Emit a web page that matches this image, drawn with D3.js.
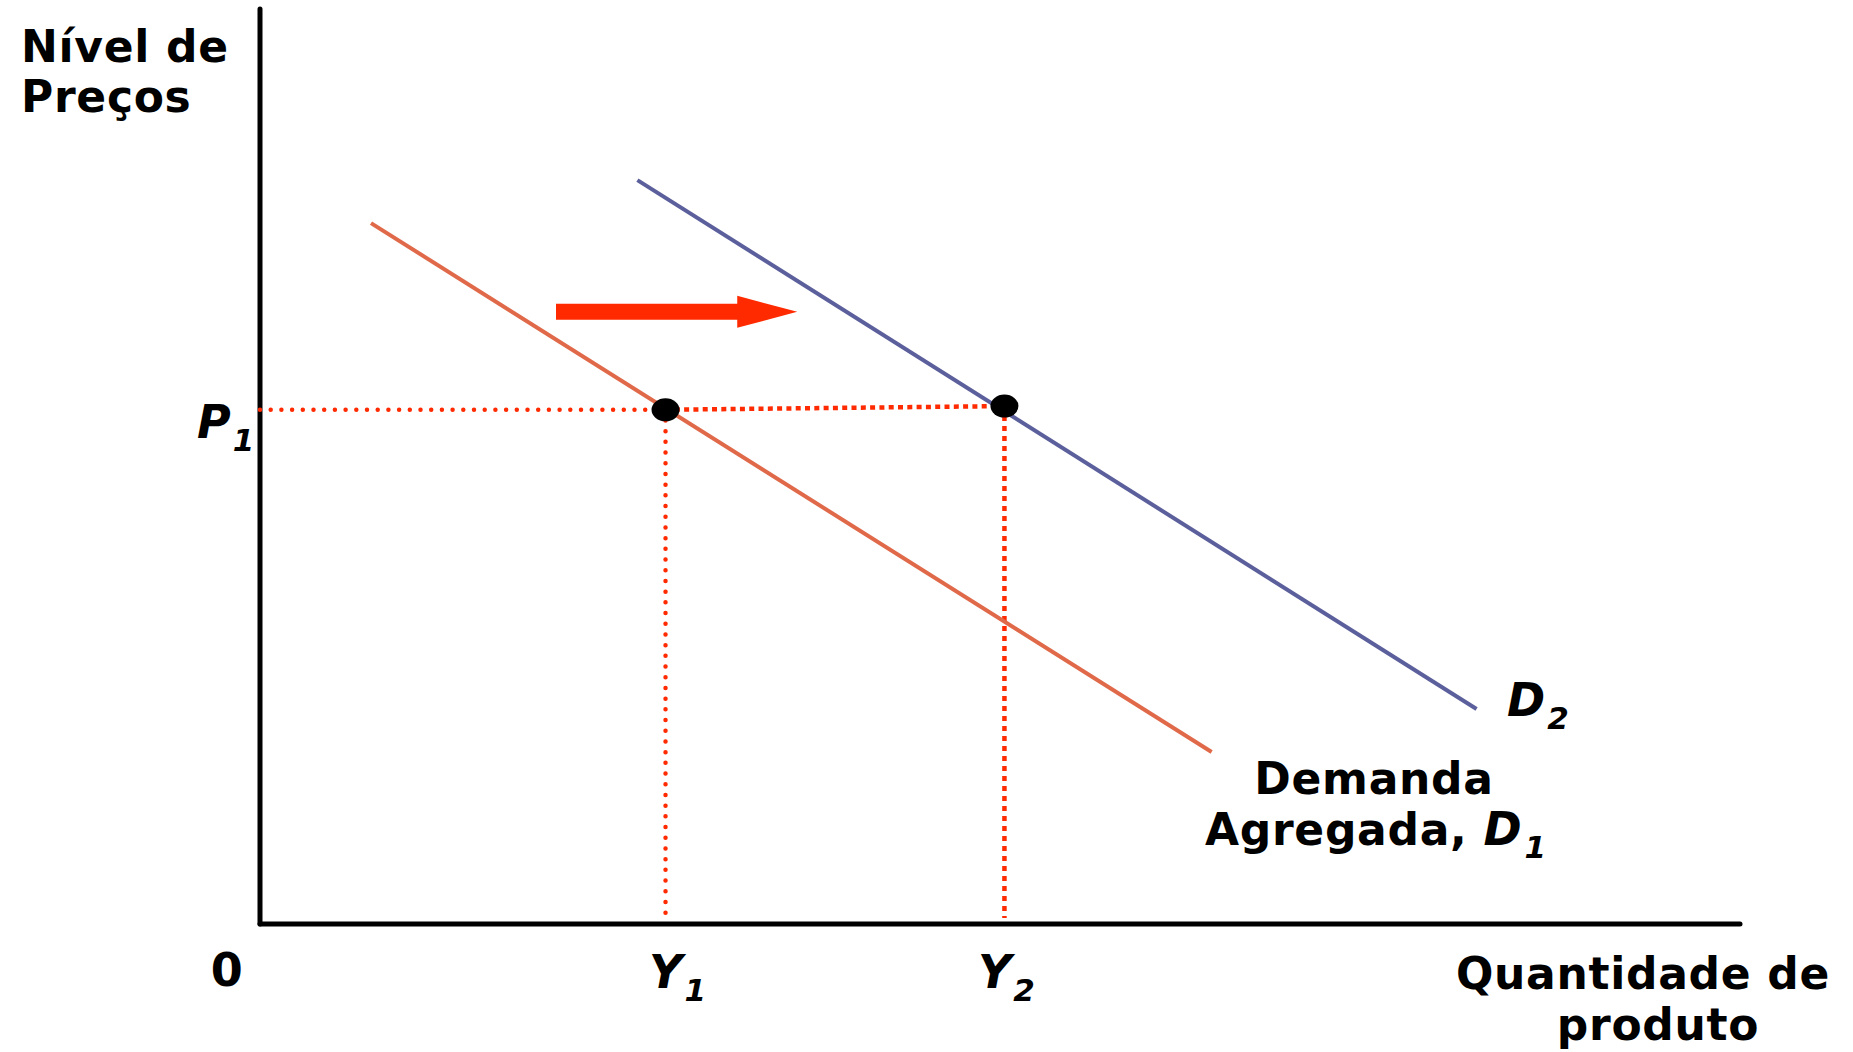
<!DOCTYPE html>
<html><head><meta charset="utf-8">
<script src="https://cdn.jsdelivr.net/npm/d3@7"></script>
<style>html,body{margin:0;padding:0;background:#fff;overflow:hidden}</style>
</head><body><svg id="c" width="1853" height="1052"></svg>
<script>
// Data (domain units 0..100 on both axes)
const curveNames = ["D1", "D2"];
const curveD1 = [[7.5, 76.6], [64.3, 18.8]];
const curveD2 = [[25.5, 81.3], [82.2, 23.5]];
const equilibriumX = [27.4, 50.3];
const equilibriumY = [56.2, 56.6];
const priceLevelP1 = 56.2;
const shiftArrow = [[20.0, 66.9], [36.3, 66.9]];
const xTickLabels = [{v: 0, t: "0"}, {v: 27.4, t: "Y", s: "1"}, {v: 50.3, t: "Y", s: "2"}];
const yTickLabels = [{v: 56.2, t: "P", s: "1"}];

const svg = d3.select("#c");
const x = d3.scaleLinear().domain([0, 100]).range([260, 1740]);
const y = d3.scaleLinear().domain([0, 100]).range([924, 9]);
const FONT = "'DejaVu Sans', Verdana, sans-serif";
const RED = "#ff2a00";

// axes
svg.append("line").attr("x1", x(0)).attr("x2", x(0)).attr("y1", y(100)).attr("y2", y(0))
  .attr("stroke", "#000").attr("stroke-width", 5).attr("stroke-linecap", "round");
svg.append("line").attr("x1", x(0)).attr("x2", x(100)).attr("y1", y(0)).attr("y2", y(0))
  .attr("stroke", "#000").attr("stroke-width", 5).attr("stroke-linecap", "round");

// guide lines
const guides = svg.append("g").attr("stroke", RED).attr("fill", "none").attr("stroke-width", 4.5);
guides.append("line").attr("x1", x(0)).attr("x2", x(equilibriumX[0])).attr("y1", y(priceLevelP1)).attr("y2", y(equilibriumY[0]))
  .attr("stroke-dasharray", "0 10.7").attr("stroke-linecap", "round");
guides.append("line").attr("x1", x(equilibriumX[0])).attr("x2", x(equilibriumX[0])).attr("y1", y(equilibriumY[0])).attr("y2", y(0) - 6)
  .attr("stroke-dasharray", "0 10.7").attr("stroke-linecap", "round");
guides.append("line").attr("x1", x(equilibriumX[0])).attr("x2", x(equilibriumX[1])).attr("y1", y(equilibriumY[0])).attr("y2", y(equilibriumY[1]))
  .attr("stroke-dasharray", "5 4.3");
guides.append("line").attr("x1", x(equilibriumX[1])).attr("x2", x(equilibriumX[1])).attr("y1", y(equilibriumY[1])).attr("y2", y(0) - 6)
  .attr("stroke-dasharray", "5 5");

// curves
const line = d3.line().x(d => x(d[0])).y(d => y(d[1]));
svg.append("path").datum(curveD1).attr("d", line).attr("stroke", "#e0694a").attr("stroke-width", 4).attr("fill", "none");
svg.append("path").datum(curveD2).attr("d", line).attr("stroke", "#5b5f9b").attr("stroke-width", 4).attr("fill", "none");

// equilibrium dots
svg.selectAll("ellipse.eq").data(equilibriumX).join("ellipse").attr("class", "eq")
  .attr("cx", d => x(d)).attr("cy", (d, i) => y(equilibriumY[i])).attr("rx", 14).attr("ry", 11.5).attr("fill", "#000");

// shift arrow
const ax0 = x(shiftArrow[0][0]), ax1 = x(shiftArrow[1][0]), ay = y(shiftArrow[0][1]);
const headLen = 60, bodyH = 8, headH = 16;
svg.append("path").attr("fill", RED).attr("d",
  `M${ax0},${ay - bodyH}L${ax1 - headLen},${ay - bodyH}L${ax1 - headLen},${ay - headH}L${ax1},${ay}L${ax1 - headLen},${ay + headH}L${ax1 - headLen},${ay + bodyH}L${ax0},${ay + bodyH}Z`);

// text helpers
const FS = 44, LS = 0.7;
function label(xp, yp, txt, opts = {}) {
  return svg.append("text").attr("x", xp).attr("y", yp).attr("font-family", FONT).attr("font-weight", "bold")
    .attr("font-size", opts.size || FS).attr("letter-spacing", LS).attr("text-anchor", opts.anchor || "start")
    .attr("fill", "#000").text(txt);
}
function subLabel(xp, yp, main, sub, anchor) {
  const t = svg.append("text").attr("x", xp).attr("y", yp).attr("font-family", FONT).attr("font-weight", "bold")
    .attr("font-style", "italic").attr("font-size", 46).attr("text-anchor", anchor || "start").attr("fill", "#000");
  t.append("tspan").text(main);
  t.append("tspan").attr("font-size", 31).attr("dy", 13).attr("dx", 2).text(sub);
  return t;
}

// Y axis title
label(21, 62, "Nível de");
label(21, 112, "Preços");
// X axis title
label(1643, 989, "Quantidade de", {anchor: "middle"});
label(1658, 1040, "produto", {anchor: "middle"});

// tick labels
const tickOffsets = [-33, 12, 2];
xTickLabels.forEach((d, i) => {
  if (!d.s) label(x(d.v) + tickOffsets[i], 986, d.t, {anchor: "middle", size: 46});
  else subLabel(x(d.v) + tickOffsets[i], 988, d.t, d.s, "middle");
});
yTickLabels.forEach(d => subLabel(197, y(d.v) + 28, d.t, d.s));

// curve labels
subLabel(1507, 716, "D", "2");
label(1374, 794, "Demanda", {anchor: "middle"});
const ag = label(1205, 845, "Agregada, ");
ag.append("tspan").attr("font-style", "italic").attr("font-size", 46).text("D");
ag.append("tspan").attr("font-style", "italic").attr("font-size", 31).attr("dy", 13).attr("dx", 2).text("1");
</script></body></html>
